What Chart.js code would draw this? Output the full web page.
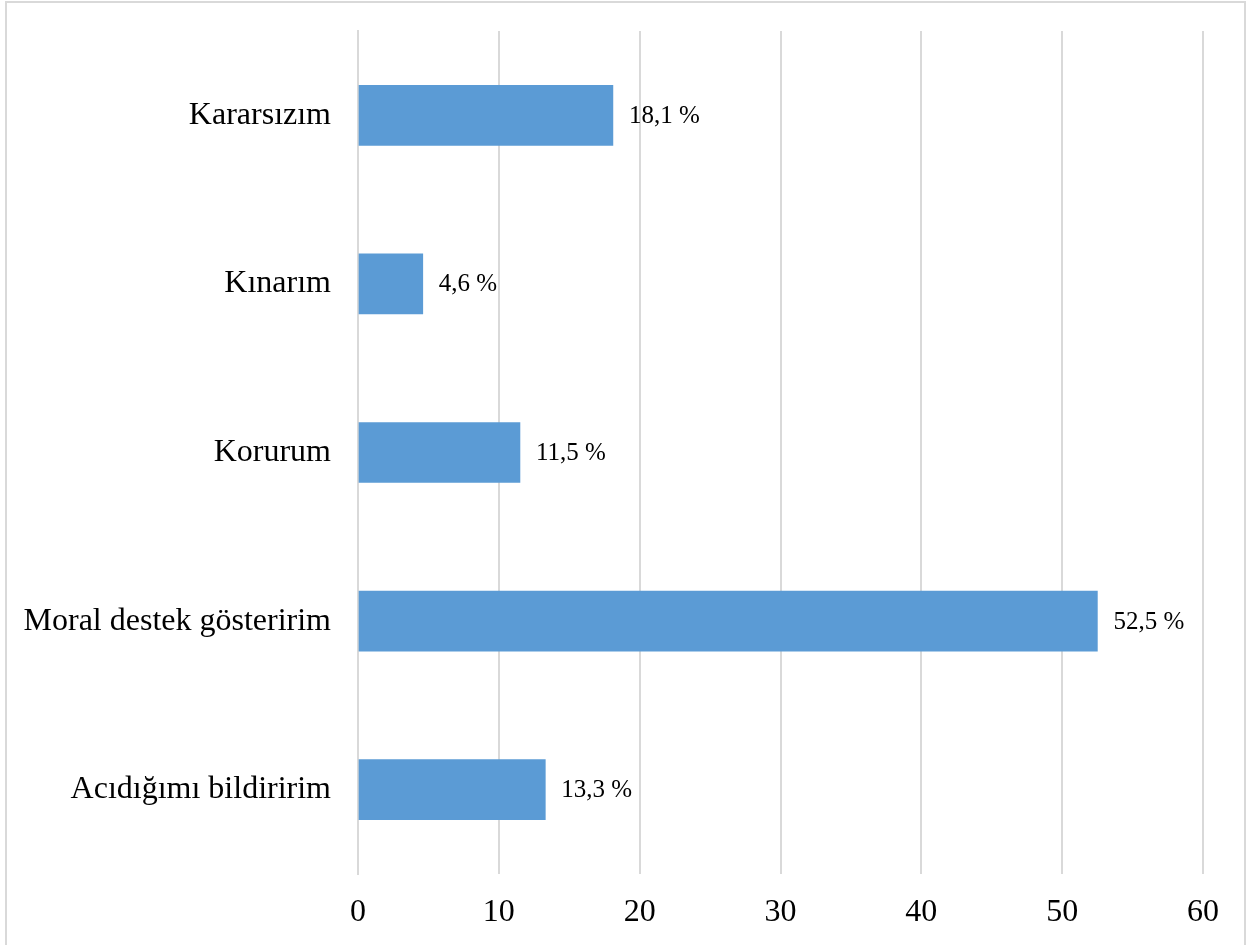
<!DOCTYPE html>
<html>
<head>
<meta charset="utf-8">
<script src="https://cdn.jsdelivr.net/npm/chart.js@4/dist/chart.umd.min.js"></script>
<style>
  html, body { margin: 0; padding: 0; background: #ffffff; }
  #wrap { position: relative; width: 1254px; height: 945px; overflow: hidden; }
  #frame { position: absolute; left: 5px; top: 1px; width: 1241px; height: 960px; border: 2px solid #d9d9d9; box-sizing: border-box; pointer-events: none; }
  canvas { position: absolute; left: 0; top: 0; }
</style>
</head>
<body>
<div id="wrap">
  <canvas id="c" width="1254" height="945"></canvas>
  <div id="frame"></div>
</div>
<script>
const categories = ["Kararsızım", "Kınarım", "Korurum", "Moral destek gösteririm", "Acıdığımı bildiririm"];
const values = [18.1, 4.6, 11.5, 52.5, 13.3];
const valueLabels = ["18,1 %", "4,6 %", "11,5 %", "52,5 %", "13,3 %"];
const xTicks = [0, 10, 20, 30, 40, 50, 60];

const serif = "'Liberation Serif', 'Times New Roman', serif";

const labelPlugin = {
  id: 'valueLabels',
  afterDatasetsDraw(chart) {
    const ctx = chart.ctx;
    const meta = chart.getDatasetMeta(0);
    ctx.save();
    ctx.font = "25px " + serif;
    ctx.fillStyle = "#000000";
    ctx.textAlign = "left";
    ctx.textBaseline = "middle";
    meta.data.forEach((bar, i) => {
      ctx.fillText(valueLabels[i], bar.x + 16, bar.y + 1);
    });
    ctx.restore();
  }
};

new Chart(document.getElementById('c'), {
  type: 'bar',
  data: {
    labels: categories,
    datasets: [{
      data: values,
      backgroundColor: '#5B9BD5',
      borderWidth: 0,
      barThickness: 60
    }]
  },
  options: {
    indexAxis: 'y',
    responsive: false,
    animation: false,
    devicePixelRatio: 1,
    layout: { padding: { left: 0, right: 51, top: 31, bottom: 0 } },
    plugins: { legend: { display: false }, tooltip: { enabled: false } },
    scales: {
      x: {
        min: 0, max: 60,
        afterBuildTicks(scale) { scale.ticks = xTicks.map(v => ({ value: v })); },
        afterFit(scale) { scale.height = 71; scale.paddingLeft = 0; scale.paddingRight = 0; },
        grid: { color: '#d9d9d9', lineWidth: 2, drawTicks: false },
        border: { display: false },
        ticks: { color: '#000000', font: { family: serif, size: 32 }, padding: 19, maxRotation: 0, autoSkip: false }
      },
      y: {
        afterFit(scale) { scale.width = 358; scale.paddingTop = 0; scale.paddingBottom = 0; },
        grid: { display: false, drawTicks: false },
        border: { display: true, color: '#d9d9d9', width: 2 },
        ticks: { color: '#000000', font: { family: serif, size: 32 }, padding: 27 }
      }
    }
  },
  plugins: [labelPlugin]
});
</script>
</body>
</html>
